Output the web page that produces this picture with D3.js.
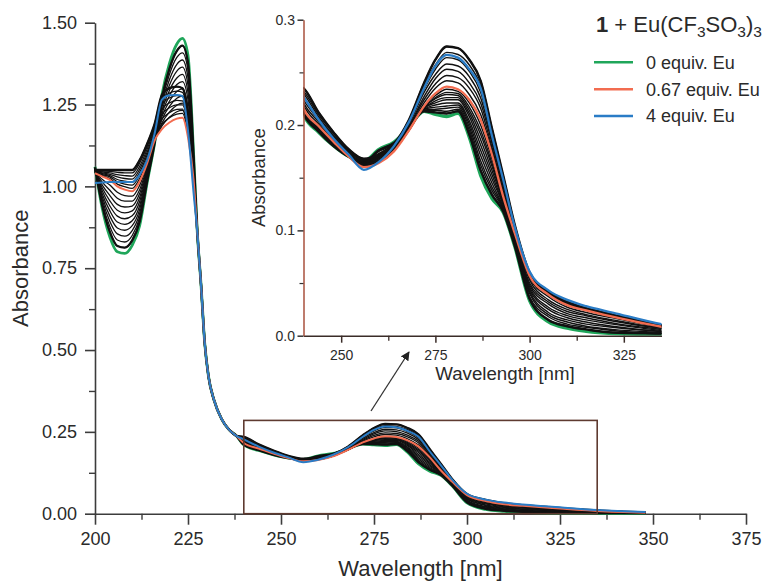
<!DOCTYPE html>
<html><head><meta charset="utf-8">
<script src="https://cdn.jsdelivr.net/npm/d3@7"></script>
<style>
body{margin:0;background:#fff}
text{font-family:"Liberation Sans",Arial,Helvetica,sans-serif;fill:#2a2a2a}
</style>
</head><body>
<svg id="c" width="773" height="584"></svg>
<script>
// ---------------- DATA ----------------
// wavelengths (nm) of the three parts of every spectrum
const wlLeft  = [200,202,204,206,208,210,212,214,216,218,220,222,223.5,225,226.5];
const wlMid   = [227.5,228.5,229.5,230.5,232,234,236,238];
const wlRight = [240,244,248,252,256,260,264,268,272,275,278,281,284,287,290,293,296,300,305,310,315,322,335,348];
// common steep part shared by all spectra
const absMid  = [0.86,0.70,0.52,0.42,0.347,0.29,0.257,0.238];

// coloured spectra
const green0Left   = [1.06,0.93,0.845,0.80,0.795,0.82,0.88,1.01,1.13,1.28,1.375,1.435,1.452,1.40,1.10];
const green0Right  = [0.210,0.193,0.180,0.170,0.166,0.177,0.184,0.198,0.213,0.210,0.208,0.211,0.188,0.152,0.130,0.117,0.085,0.033,0.013,0.007,0.004,0.002,0.001,0.0005];
const orange067Left  = [1.04,1.03,1.02,1.00,0.99,0.985,1.015,1.07,1.14,1.175,1.195,1.207,1.21,1.15,1.02];
const orange067Right = [0.216,0.199,0.184,0.170,0.160,0.164,0.175,0.195,0.218,0.230,0.2365,0.234,0.224,0.205,0.172,0.132,0.098,0.057,0.039,0.029,0.024,0.018,0.0085,0.003];
const blue4Left    = [1.01,1.012,1.013,1.013,1.013,1.013,1.035,1.08,1.16,1.265,1.278,1.279,1.276,1.17,0.98];
const blue4Right   = [0.227,0.205,0.187,0.172,0.1575,0.165,0.180,0.203,0.235,0.256,0.2666,0.264,0.253,0.235,0.190,0.148,0.104,0.061,0.043,0.034,0.028,0.022,0.011,0.005];

// intermediate titration spectra (black)
const blackLeft = [
 [1.058,0.939,0.861,0.818,0.813,0.835,0.892,1.015,1.131,1.270,1.359,1.414,1.430,1.377,1.093],
 [1.056,0.948,0.877,0.836,0.830,0.850,0.905,1.021,1.132,1.261,1.342,1.394,1.408,1.355,1.085],
 [1.055,0.957,0.893,0.855,0.848,0.865,0.917,1.026,1.133,1.251,1.326,1.373,1.386,1.332,1.078],
 [1.053,0.966,0.909,0.873,0.866,0.880,0.929,1.032,1.134,1.242,1.309,1.352,1.364,1.309,1.071],
 [1.051,0.975,0.925,0.891,0.884,0.895,0.941,1.037,1.135,1.232,1.293,1.331,1.342,1.286,1.064],
 [1.049,0.985,0.940,0.909,0.901,0.910,0.954,1.043,1.135,1.223,1.277,1.311,1.320,1.264,1.056],
 [1.047,0.994,0.956,0.927,0.919,0.925,0.966,1.048,1.136,1.213,1.260,1.290,1.298,1.241,1.049],
 [1.045,1.003,0.972,0.945,0.937,0.940,0.978,1.054,1.137,1.204,1.244,1.269,1.276,1.218,1.042],
 [1.044,1.012,0.988,0.964,0.955,0.955,0.990,1.059,1.138,1.194,1.227,1.248,1.254,1.195,1.035],
 [1.042,1.021,1.004,0.982,0.972,0.970,1.003,1.065,1.139,1.185,1.211,1.228,1.232,1.173,1.027],
 [1.041,1.033,1.024,1.007,0.999,0.994,1.024,1.079,1.147,1.190,1.210,1.221,1.223,1.160,1.020],
 [1.043,1.036,1.029,1.014,1.007,1.004,1.034,1.087,1.154,1.205,1.225,1.235,1.236,1.170,1.020],
 [1.044,1.039,1.033,1.021,1.016,1.013,1.043,1.096,1.161,1.220,1.240,1.249,1.249,1.180,1.020],
 [1.046,1.041,1.037,1.029,1.024,1.022,1.052,1.104,1.169,1.235,1.255,1.263,1.261,1.190,1.020],
 [1.047,1.044,1.041,1.036,1.033,1.031,1.061,1.113,1.176,1.250,1.270,1.277,1.274,1.200,1.020],
 [1.049,1.047,1.046,1.043,1.041,1.041,1.071,1.121,1.183,1.265,1.285,1.291,1.287,1.210,1.020],
 [1.050,1.050,1.050,1.050,1.050,1.050,1.080,1.130,1.190,1.280,1.300,1.305,1.300,1.220,1.020]
];
const blackRight = [
 [0.211,0.194,0.180,0.170,0.165,0.176,0.183,0.198,0.213,0.212,0.211,0.213,0.191,0.157,0.134,0.118,0.086,0.035,0.015,0.009,0.006,0.003,0.002,0.001],
 [0.211,0.194,0.181,0.170,0.165,0.175,0.182,0.197,0.214,0.214,0.213,0.215,0.195,0.162,0.138,0.120,0.087,0.037,0.018,0.011,0.008,0.005,0.002,0.001],
 [0.212,0.195,0.181,0.170,0.164,0.173,0.182,0.197,0.214,0.215,0.216,0.217,0.198,0.166,0.141,0.121,0.089,0.040,0.020,0.013,0.009,0.006,0.003,0.001],
 [0.212,0.195,0.181,0.170,0.164,0.172,0.181,0.197,0.215,0.217,0.218,0.219,0.201,0.171,0.145,0.122,0.090,0.042,0.022,0.015,0.011,0.008,0.004,0.001],
 [0.213,0.196,0.182,0.170,0.163,0.171,0.180,0.197,0.215,0.219,0.221,0.221,0.204,0.176,0.149,0.124,0.091,0.044,0.025,0.017,0.013,0.009,0.004,0.002],
 [0.213,0.196,0.182,0.170,0.163,0.170,0.179,0.196,0.216,0.221,0.224,0.224,0.208,0.181,0.153,0.125,0.092,0.046,0.027,0.019,0.015,0.011,0.005,0.002],
 [0.214,0.197,0.183,0.170,0.162,0.169,0.178,0.196,0.216,0.223,0.226,0.226,0.211,0.186,0.157,0.127,0.093,0.048,0.030,0.021,0.017,0.012,0.006,0.002],
 [0.214,0.197,0.183,0.170,0.162,0.168,0.177,0.196,0.217,0.225,0.229,0.228,0.214,0.191,0.161,0.128,0.094,0.050,0.032,0.023,0.019,0.014,0.007,0.002],
 [0.215,0.198,0.183,0.170,0.161,0.166,0.176,0.195,0.217,0.226,0.231,0.230,0.217,0.195,0.164,0.129,0.096,0.053,0.034,0.025,0.020,0.015,0.007,0.003],
 [0.215,0.198,0.184,0.170,0.161,0.165,0.176,0.195,0.218,0.228,0.234,0.232,0.221,0.200,0.168,0.131,0.097,0.055,0.037,0.027,0.022,0.017,0.008,0.003],
 [0.219,0.201,0.185,0.171,0.161,0.165,0.176,0.196,0.221,0.235,0.242,0.240,0.229,0.210,0.176,0.135,0.099,0.057,0.039,0.029,0.024,0.018,0.009,0.003],
 [0.221,0.203,0.187,0.172,0.162,0.166,0.177,0.198,0.224,0.239,0.247,0.245,0.235,0.216,0.179,0.138,0.100,0.058,0.040,0.030,0.025,0.019,0.009,0.003],
 [0.224,0.205,0.188,0.173,0.163,0.167,0.178,0.199,0.227,0.244,0.253,0.251,0.240,0.221,0.183,0.141,0.101,0.058,0.040,0.030,0.025,0.019,0.009,0.004],
 [0.227,0.206,0.189,0.174,0.165,0.169,0.179,0.201,0.231,0.248,0.258,0.256,0.246,0.226,0.186,0.143,0.103,0.059,0.041,0.031,0.025,0.019,0.010,0.004],
 [0.230,0.208,0.190,0.175,0.166,0.170,0.180,0.202,0.234,0.253,0.264,0.262,0.251,0.231,0.190,0.146,0.104,0.059,0.041,0.031,0.026,0.020,0.010,0.004],
 [0.232,0.210,0.192,0.176,0.167,0.171,0.181,0.204,0.237,0.257,0.269,0.267,0.257,0.237,0.193,0.149,0.105,0.060,0.042,0.032,0.026,0.020,0.010,0.004],
 [0.235,0.212,0.193,0.177,0.168,0.172,0.182,0.205,0.240,0.262,0.2745,0.273,0.262,0.242,0.197,0.152,0.106,0.060,0.042,0.032,0.026,0.020,0.010,0.004]
];

// axes ticks / labels
const mainXTicks = [200,225,250,275,300,325,350,375];
const mainXMinor = [212.5,237.5,262.5,287.5,312.5,337.5,362.5];
const mainYTicks = [0,0.25,0.5,0.75,1.0,1.25,1.5];
const mainYMinor = [0.125,0.375,0.625,0.875,1.125,1.375];
const insetXTicks = [250,275,300,325];
const insetXMinor = [262.5,287.5,312.5];
const insetYTicks = [0,0.1,0.2,0.3];
const insetYMinor = [0.05,0.15,0.25];
const xTitle = "Wavelength [nm]";
const yTitle = "Absorbance";
const legendLabels = ["0 equiv. Eu","0.67 equiv. Eu","4 equiv. Eu"];
const legendColors = ["#1fa65a","#f26c50","#2a7cc6"];
const zoomBox = [240,335,0,0.285];

// ---------------- BUILD SERIES ----------------
const wlAll = wlLeft.concat(wlMid, wlRight);
function build(left, right){ const v = left.concat(absMid, right); return wlAll.map((w,i)=>({w, a: v[i]})); }
const blackSeries = blackLeft.map((l,i)=>build(l, blackRight[i]));
const greenSeries = build(green0Left, green0Right);
const orangeSeries = build(orange067Left, orange067Right);
const blueSeries = build(blue4Left, blue4Right);

const svg = d3.select("#c");
const axisCol = "#3c3c3c";

// ---------------- MAIN CHART ----------------
const x = d3.scaleLinear().domain([200,375]).range([95,746]);
const y = d3.scaleLinear().domain([0,1.5]).range([513.7,22.7]);

function styleAxis(g, col, w){
  g.select(".domain").attr("stroke",col).attr("stroke-width",w);
  g.selectAll(".tick line").attr("stroke",col).attr("stroke-width",w);
}

const gx = svg.append("g").attr("transform",`translate(0,${y(0)})`)
  .call(d3.axisBottom(x).tickValues(mainXTicks).tickSize(11).tickSizeOuter(0).tickPadding(7.5).tickFormat(d3.format("d")));
gx.selectAll("text").attr("font-size",18).attr("fill","#2a2a2a");
styleAxis(gx, axisCol, 1.6);
const gxm = svg.append("g").attr("transform",`translate(0,${y(0)})`)
  .call(d3.axisBottom(x).tickValues(mainXMinor).tickSize(6).tickSizeOuter(0).tickFormat(""));
gxm.select(".domain").remove(); styleAxis(gxm, axisCol, 1.4);

const gy = svg.append("g").attr("transform",`translate(${x(200)},0)`)
  .call(d3.axisLeft(y).tickValues(mainYTicks).tickSize(10).tickSizeOuter(0).tickPadding(8).tickFormat(d3.format(".2f")));
gy.selectAll("text").attr("font-size",18).attr("fill","#2a2a2a");
styleAxis(gy, axisCol, 1.6);
const gym = svg.append("g").attr("transform",`translate(${x(200)},0)`)
  .call(d3.axisLeft(y).tickValues(mainYMinor).tickSize(6).tickSizeOuter(0).tickFormat(""));
gym.select(".domain").remove(); styleAxis(gym, axisCol, 1.4);

svg.append("text").attr("x",(x(200)+x(375))/2).attr("y",576).attr("text-anchor","middle")
  .attr("font-size",22).text(xTitle);
svg.append("text").attr("transform",`translate(28,${(y(0)+y(1.5))/2}) rotate(-90)`)
  .attr("text-anchor","middle").attr("font-size",22).text(yTitle);

function drawSeries(g, xs, ys, widths){
  const line = d3.line().x(d=>xs(d.w)).y(d=>ys(d.a)).curve(d3.curveMonotoneX);
  g.append("path").datum(greenSeries).attr("d",line).attr("fill","none")
    .attr("stroke",legendColors[0]).attr("stroke-width",widths[1]+0.8);
  // dark outline under the whole bundle
  g.selectAll("path.blko").data([blackSeries[0], blackSeries[blackSeries.length-1]]).join("path").attr("class","blko")
    .attr("d",line).attr("fill","none").attr("stroke","#111").attr("stroke-width",widths[0]+1);
  g.selectAll("path.blk").data(blackSeries).join("path").attr("class","blk")
    .attr("d",line).attr("fill","none").attr("stroke","#111").attr("stroke-width",widths[0]);
  g.append("path").datum(orangeSeries).attr("d",line).attr("fill","none")
    .attr("stroke",legendColors[1]).attr("stroke-width",widths[1]);
  g.append("path").datum(blueSeries).attr("d",line).attr("fill","none")
    .attr("stroke",legendColors[2]).attr("stroke-width",widths[1]);
}
const mainG = svg.append("g");
drawSeries(mainG, x, y, [1.3, 2.0]);

// zoom rectangle
svg.append("rect").attr("x",x(zoomBox[0])).attr("y",y(zoomBox[3]))
  .attr("width",x(zoomBox[1])-x(zoomBox[0])).attr("height",y(zoomBox[2])-y(zoomBox[3]))
  .attr("fill","none").attr("stroke","#5e3a30").attr("stroke-width",1.6);

// arrow
svg.append("defs").append("marker").attr("id","ah").attr("viewBox","0 0 10 10")
  .attr("refX",9).attr("refY",5).attr("markerWidth",9).attr("markerHeight",9)
  .attr("orient","auto").attr("markerUnits","userSpaceOnUse")
  .append("path").attr("d","M0,0 L10,5 L0,10 Z").attr("fill","#222");
svg.append("line").attr("x1",371).attr("y1",411).attr("x2",409).attr("y2",352)
  .attr("stroke","#333").attr("stroke-width",1.3).attr("marker-end","url(#ah)");

// ---------------- INSET ----------------
const xi = d3.scaleLinear().domain([240,335]).range([303.5,661.5]);
const yi = d3.scaleLinear().domain([0,0.3]).range([335.7,19.7]);

svg.append("clipPath").attr("id","clipI").append("rect")
  .attr("x",xi(240)).attr("y",yi(0.3)-2).attr("width",xi(335)-xi(240)).attr("height",yi(0)-yi(0.3)+2);
const insetG = svg.append("g").attr("clip-path","url(#clipI)");
drawSeries(insetG, xi, yi, [1.45, 2.3]);

const ixCol = "#3a2c28", iyCol = "#a9503c";
const gxi = svg.append("g").attr("transform",`translate(0,${yi(0)})`)
  .call(d3.axisBottom(xi).tickValues(insetXTicks).tickSize(7).tickSizeOuter(0).tickPadding(7.4).tickFormat(d3.format("d")));
gxi.selectAll("text").attr("font-size",14).attr("fill","#2a2a2a");
styleAxis(gxi, ixCol, 1.5);
const gxim = svg.append("g").attr("transform",`translate(0,${yi(0)})`)
  .call(d3.axisBottom(xi).tickValues(insetXMinor).tickSize(5).tickSizeOuter(0).tickFormat(""));
gxim.select(".domain").remove(); styleAxis(gxim, ixCol, 1.3);

const gyi = svg.append("g").attr("transform",`translate(${xi(240)},0)`)
  .call(d3.axisLeft(yi).tickValues(insetYTicks).tickSize(6).tickSizeOuter(0).tickPadding(2.5).tickFormat(d3.format(".1f")));
gyi.selectAll("text").attr("font-size",14).attr("fill","#2a2a2a");
styleAxis(gyi, iyCol, 1.5);
gyi.selectAll(".tick line").attr("stroke","#333");
const gyim = svg.append("g").attr("transform",`translate(${xi(240)},0)`)
  .call(d3.axisLeft(yi).tickValues(insetYMinor).tickSize(4).tickSizeOuter(0).tickFormat(""));
gyim.select(".domain").remove(); styleAxis(gyim, "#333", 1.2);

svg.append("text").attr("x",505).attr("y",380).attr("text-anchor","middle")
  .attr("font-size",18.7).text(xTitle);
svg.append("text").attr("transform",`translate(265,${(yi(0)+yi(0.3))/2}) rotate(-90)`)
  .attr("text-anchor","middle").attr("font-size",18.5).text(yTitle);

// ---------------- LEGEND ----------------
const lt = svg.append("text").attr("x",596).attr("y",31.5).attr("font-size",22);
lt.append("tspan").attr("font-weight","bold").text("1");
lt.append("tspan").text(" + Eu(CF");
lt.append("tspan").attr("font-size",15.5).attr("dy",5).text("3");
lt.append("tspan").attr("dy",-5).text("SO");
lt.append("tspan").attr("font-size",15.5).attr("dy",5).text("3");
lt.append("tspan").attr("dy",-5).text(")");
lt.append("tspan").attr("font-size",15.5).attr("dy",5).text("3");

const lgY = [62.3, 89.3, 116];
const lg = svg.append("g");
lg.selectAll("line").data(legendLabels).join("line")
  .attr("x1",594).attr("x2",633).attr("y1",(d,i)=>lgY[i]).attr("y2",(d,i)=>lgY[i])
  .attr("stroke",(d,i)=>legendColors[i]).attr("stroke-width",2.5);
lg.selectAll("text").data(legendLabels).join("text")
  .attr("x",646).attr("y",(d,i)=>lgY[i]+6.3).attr("font-size",18).text(d=>d);
</script>
</body></html>
